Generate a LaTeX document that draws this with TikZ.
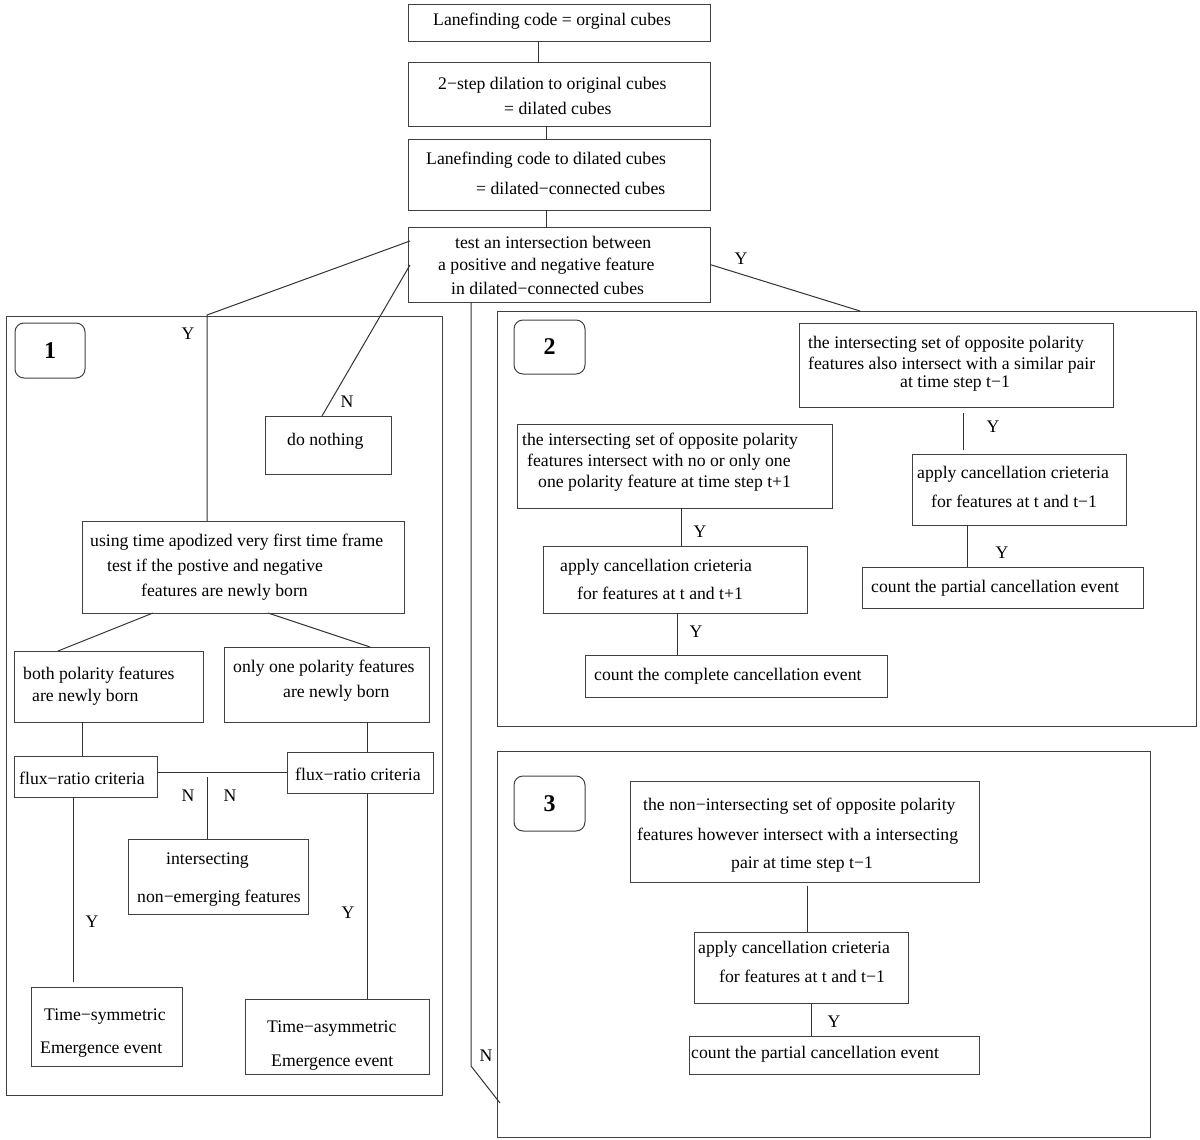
\documentclass[tikz,border=0pt]{standalone}
\usepackage{fontspec}
\setmainfont{Liberation Serif}
\usetikzlibrary{fit,calc}
\newcommand\bx[6][box]{\node[#1, fit={(#3,#4) (#5,#6)}] (#2) {};}
\begin{document}
\begin{tikzpicture}[x=1pt,y=-1pt,
  box/.style={draw=black!75, line width=1pt, inner sep=0pt, outer sep=0pt, rectangle},
  badge/.style={box, rounded corners=9pt},
  txt/.style={inner sep=0pt, anchor=base west, font=\fontsize{17.7}{20}\selectfont},
  lab/.style={inner sep=0pt, font=\fontsize{17.7}{20}\selectfont},
  num/.style={inner sep=0pt, font=\fontsize{24}{24}\selectfont\bfseries},
  conn/.style={draw=black!80, line width=1pt}]
\useasboundingbox (0,0) rectangle (1200,1140);
% boxes
\bx{A}{408}{5}{710}{42}
\bx{B}{408}{63}{710}{126}
\bx{C}{408}{139}{710}{210}
\bx{D}{408}{227}{710}{302}
\bx{P1}{6}{316}{442}{1095}
\bx[badge]{b1}{15}{323}{85}{378}
\bx{nothing}{265}{416}{391}{474}
\bx{ap}{82}{521}{404}{613}
\bx{both}{14}{651}{203}{722}
\bx{only}{224}{647}{429}{722}
\bx{f1}{14}{756}{157}{797}
\bx{f2}{287}{752}{433}{793}
\bx{inter}{128}{839}{308}{914}
\bx{ts}{31}{987}{182}{1066}
\bx{ta}{245}{999}{429}{1074}
\bx{P2}{497}{311}{1196}{726}
\bx[badge]{b2}{514}{320}{585}{374}
\bx{t2}{799}{323}{1113}{407}
\bx{c2}{912}{454}{1126}{525}
\bx{p2}{862}{567}{1143}{608}
\bx{l2}{517}{424}{832}{508}
\bx{ct}{543}{546}{807}{613}
\bx{cc}{585}{655}{887}{697}
\bx{P3}{497}{751}{1150}{1137}
\bx[badge]{b3}{514}{776}{585}{831}
\bx{t3}{630}{781}{979}{882}
\bx{c3}{694}{932}{908}{1003}
\bx{p3}{689}{1036}{979}{1074}
% badge numbers
\node[num] (n1) at (b1.center) {1};
\node[num] (n2) at (b2.center) {2};
\node[num] (n3) at (b3.center) {3};
% texts
\node[txt] (tA) at (433,26) {Lanefinding code = orginal cubes};
\node[txt] (tB1) at (438,89) {2−step dilation to original cubes};
\node[txt] (tB2) at (504,114) {= dilated cubes};
\node[txt] (tC1) at (426,164) {Lanefinding code to dilated cubes};
\node[txt] (tC2) at (476,194) {= dilated−connected cubes};
\node[txt] (tD1) at (455,248) {test an intersection between};
\node[txt] (tD2) at (438,270) {a positive and negative feature};
\node[txt] (tD3) at (451,294) {in dilated−connected cubes};
\node[txt] (tN) at (287,445) {do nothing};
\node[txt] (tap1) at (90,546) {using time apodized very first time frame};
\node[txt] (tap2) at (107,571) {test if the postive and negative};
\node[txt] (tap3) at (141,596) {features are newly born};
\node[txt] (tb1) at (23,679) {both polarity features};
\node[txt] (tb2) at (32,701) {are newly born};
\node[txt] (to1) at (233,672) {only one polarity features};
\node[txt] (to2) at (283,697) {are newly born};
\node[txt] (tf1) at (19,784) {flux−ratio criteria};
\node[txt] (tf2) at (295,780) {flux−ratio criteria};
\node[txt] (ti1) at (166,864) {intersecting};
\node[txt] (ti2) at (137,902) {non−emerging features};
\node[txt] (tts1) at (44,1020) {Time−symmetric};
\node[txt] (tts2) at (40,1053) {Emergence event};
\node[txt] (tta1) at (267,1032) {Time−asymmetric};
\node[txt] (tta2) at (271,1066) {Emergence event};
\node[txt] (tt21) at (808,348) {the intersecting set of opposite polarity};
\node[txt] (tt22) at (808,369) {features also intersect with a similar pair};
\node[txt] (tt23) at (900,387) {at time step t−1};
\node[txt] (tc21) at (917,478) {apply cancellation crieteria};
\node[txt] (tc22) at (931,507) {for features at t and t−1};
\node[txt] (tp2) at (871,592) {count the partial cancellation event};
\node[txt] (tl21) at (522,445) {the intersecting set of opposite polarity};
\node[txt] (tl22) at (527,466) {features intersect with no or only one};
\node[txt] (tl23) at (538,487) {one polarity feature at time step t+1};
\node[txt] (tct1) at (560,571) {apply cancellation crieteria};
\node[txt] (tct2) at (577,599) {for features at t and t+1};
\node[txt] (tcc) at (594,680) {count the complete cancellation event};
\node[txt] (tt31) at (643,810) {the non−intersecting set of opposite polarity};
\node[txt] (tt32) at (637,840) {features however intersect with a intersecting};
\node[txt] (tt33) at (731,868) {pair at time step t−1};
\node[txt] (tc31) at (698,953) {apply cancellation crieteria};
\node[txt] (tc32) at (719,982) {for features at t and t−1};
\node[txt] (tp3) at (691,1058) {count the partial cancellation event};
% Y / N labels
\node[lab] (y1) at (741,259) {Y};
\node[lab] (y2) at (188,334) {Y};
\node[lab] (nn1) at (347,402) {N};
\node[lab] (nn2) at (188,796) {N};
\node[lab] (nn3) at (230,796) {N};
\node[lab] (y3) at (92,922) {Y};
\node[lab] (y4) at (348,913) {Y};
\node[lab] (y5) at (993,427) {Y};
\node[lab] (y6) at (1002,553) {Y};
\node[lab] (y7) at (700,532) {Y};
\node[lab] (y8) at (696,632) {Y};
\node[lab] (y9) at (834,1022) {Y};
\node[lab] (nn4) at (486,1056) {N};
% connectors
\draw[conn] ($(A.south west)+(130,0)$) -- ($(B.north west)+(130,0)$);
\draw[conn] ($(B.south west)+(138,0)$) -- ($(C.north west)+(138,0)$);
\draw[conn] ($(C.south west)+(138,0)$) -- ($(D.north west)+(138,0)$);
\coordinate (k1) at (207,315);
\draw[conn] ($(D.north west)+(2,14)$) -- (k1) -- ($(ap.north west)+(125,0)$);
\draw[conn] ($(D.north west)+(2,38)$) -- ($(nothing.north west)+(57,0)$);
\draw[conn] (D.east) -- ($(P2.north west)+(363,0)$);
\coordinate (k2) at (471,1066);
\draw[conn] ($(D.south west)+(63,0)$) -- (k2) -- ($(P3.south west)+(3,-34)$);
\draw[conn] ($(ap.south west)+(71,0)$) -- ($(both.north west)+(44,0)$);
\draw[conn] ($(ap.south west)+(186,0)$) -- ($(only.north west)+(146,0)$);
\draw[conn] ($(both.south west)+(68,0)$) -- ($(f1.north west)+(68,0)$);
\draw[conn] ($(only.south west)+(143,0)$) -- ($(f2.north west)+(80,0)$);
\draw[conn] (f1.east |- f2.west) -- (f2.west);
\coordinate (k3) at (207,777);
\draw[conn] (k3) -- ($(inter.north west)+(79,0)$);
\draw[conn] ($(f1.south west)+(59,0)$) -- ($(ts.north west)+(42,-5)$);
\draw[conn] ($(f2.south west)+(80,0)$) -- ($(ta.north west)+(122,0)$);
\draw[conn] ($(t2.south west)+(164,6)$) -- ($(c2.north west)+(51,-4)$);
\draw[conn] ($(c2.south west)+(55,0)$) -- ($(p2.north west)+(105,0)$);
\draw[conn] ($(l2.south west)+(164,0)$) -- ($(ct.north west)+(138,0)$);
\draw[conn] ($(ct.south west)+(134,0)$) -- ($(cc.north west)+(92,0)$);
\draw[conn] ($(t3.south west)+(177,4)$) -- ($(c3.north west)+(113,0)$);
\draw[conn] ($(c3.south west)+(117,0)$) -- ($(p3.north west)+(122,0)$);
\end{tikzpicture}
\end{document}
